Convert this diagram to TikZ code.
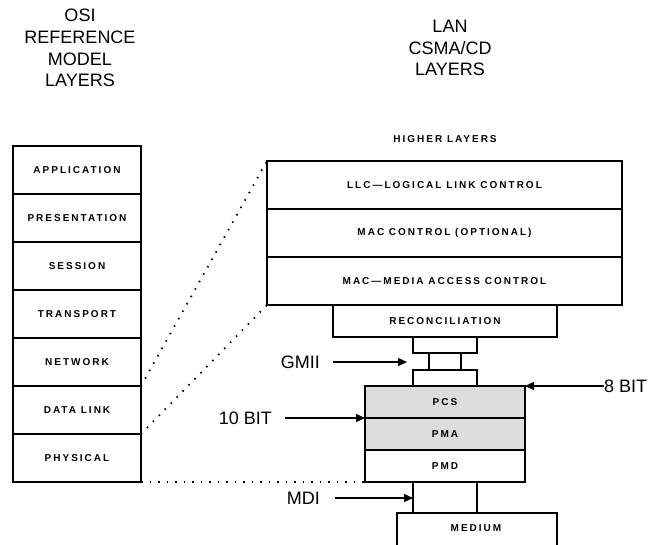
\documentclass[tikz,border=0pt]{standalone}
\usepackage{fontspec}
\setmainfont{Liberation Sans}
\newfontfamily\capfont{Liberation Sans}
\newfontfamily\boxfont[LetterSpace=20]{Liberation Sans}
\usetikzlibrary{arrows.meta}
\definecolor{shade}{RGB}{220,220,220}
\begin{document}
\begin{tikzpicture}[x=1pt,y=-1pt,
  boxtext/.style={font=\boxfont\fontsize{10}{11}\selectfont\bfseries},
  layer/.style={draw=black,line width=1.5pt,rectangle,inner sep=0pt,outer sep=0pt,boxtext},
  osirow/.style={layer,minimum width=128pt,minimum height=48pt},
  lanrow/.style={layer,minimum width=355pt,minimum height=48pt},
  phyrow/.style={layer,minimum width=160pt,minimum height=32pt},
  shaded/.style={fill=shade},
  heading/.style={font=\capfont\fontsize{18}{21.7}\selectfont,align=center},
  tag/.style={font=\capfont\fontsize{18}{20}\selectfont,inner sep=0pt},
  dots/.style={line width=1.8pt,dash pattern=on 1.5pt off 7pt,line cap=butt},
  pointer/.style={line width=1.3pt,-{Triangle[length=9pt,width=8pt]}},
  wire/.style={line width=1.5pt}]
\useasboundingbox (0,0) rectangle (652,544);

% headings
\node[heading] (osihead) at (80,48) {OSI\\REFERENCE\\MODEL\\LAYERS};
\node[heading] (lanhead) at (450,48) {LAN\\CSMA/CD\\LAYERS};

% OSI reference model stack
\node[osirow] (app)  at (77,170) {APPLICATION};
\node[osirow] (pres) at (77,218) {PRESENTATION};
\node[osirow] (sess) at (77,266) {SESSION};
\node[osirow] (trans) at (77,314) {TRANSPORT};
\node[osirow] (net)  at (77,362) {NETWORK};
\node[osirow] (dl)   at (77,410) {DATA LINK};
\node[osirow] (phy)  at (77,458) {PHYSICAL};

% LAN CSMA/CD stack
\node[boxtext] (higher) at (445,139) {HIGHER LAYERS};
\node[lanrow] (llc) at (444.5,185) {LLC—LOGICAL LINK CONTROL};
\node[lanrow] (macc) at (444.5,233) {MAC CONTROL (OPTIONAL)};
\node[lanrow] (mac) at (444.5,281) {MAC—MEDIA ACCESS CONTROL};
\node[layer,minimum width=224pt,minimum height=32pt] (rec) at (445,321) {RECONCILIATION};
\node[layer,minimum width=64pt,minimum height=16pt] (gtop) at (445,345) {};
\node[layer,minimum width=64pt,minimum height=16pt] (gbot) at (445,378) {};
\node[phyrow,shaded] (pcs) at (445,402) {PCS};
\node[phyrow,shaded] (pma) at (445,434) {PMA};
\node[phyrow] (pmd) at (445,466) {PMD};
\node[layer,minimum width=160pt,minimum height=48pt,anchor=north] (medium) at (477,513) {};
\node[boxtext] (mediumtext) at (476,528) {MEDIUM};

% GMII conductors between the reconciliation and PCS sides
\draw[wire] ([xshift=16pt]gtop.south west) -- ([xshift=16pt]gbot.north west);
\draw[wire] ([xshift=-16pt]gtop.south east) -- ([xshift=-16pt]gbot.north east);
% MDI conductors down to the medium
\draw[wire] (pmd.south -| gbot.west) -- (medium.north -| gbot.west);
\draw[wire] (pmd.south -| gbot.east) -- (medium.north -| gbot.east);

% correspondence between the two stacks
\draw[dots] (dl.north east) -- (llc.north west);
\draw[dots] (phy.north east) -- (mac.south west);
\draw[dots] (phy.south east) -- (pmd.south west);
\draw[dots] ([yshift=-50pt]llc.north west) -- ([yshift=-16pt]llc.north west);
\draw[dots] ([yshift=-50pt]llc.north east) -- ([yshift=-16pt]llc.north east);

% interface labels
\node[tag,anchor=east] (gmii) at (320,362) {GMII};
\coordinate (gmiitip) at (407,362);
\draw[pointer] ([xshift=13pt]gmii.east) -- (gmiitip);

\node[tag,anchor=west] (eightbit) at (604,386) {8 BIT};
\draw[pointer] (eightbit.west) -- (pcs.north east);

\node[tag,anchor=east] (tenbit) at (272,418) {10 BIT};
\draw[pointer] ([xshift=13pt]tenbit.east) -- (pcs.south west);

\node[tag,anchor=east] (mdi) at (320,498) {MDI};
\coordinate (mditip) at (413,498);
\draw[pointer] ([xshift=15pt]mdi.east) -- (mditip);
\end{tikzpicture}
\end{document}
